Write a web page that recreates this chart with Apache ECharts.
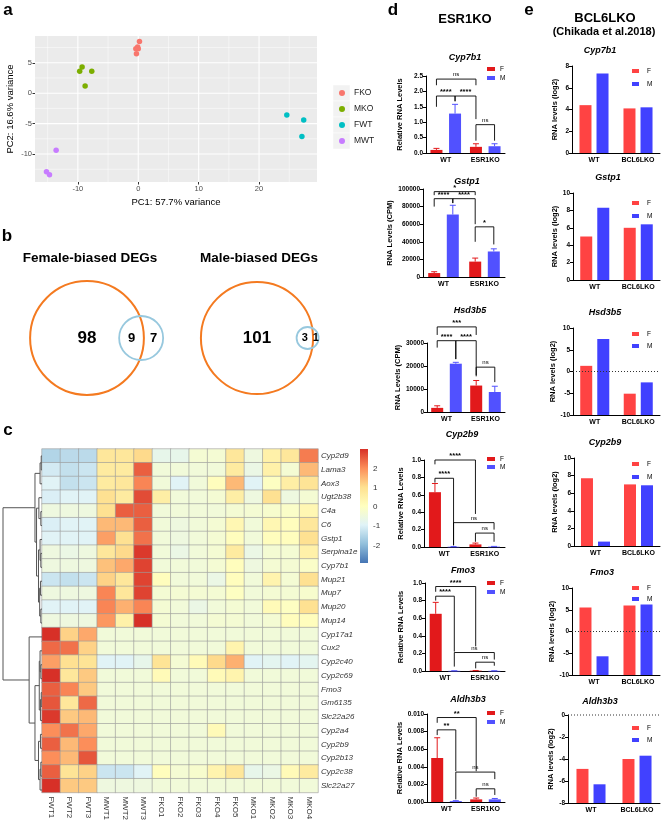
<!DOCTYPE html>
<html>
<head>
<meta charset="utf-8">
<title>ESR1KO / BCL6LKO</title>
<script src="https://cdn.jsdelivr.net/npm/echarts@6.0.0/dist/echarts.min.js"></script>
<style>
  html, body { margin: 0; padding: 0; background: #fff; }
  #chart { width: 667px; height: 823px; }
</style>
</head>
<body>
<div id="chart"></div>
<script>
// ---------- a: PCA ----------
const pcaGroups = ['FKO', 'MKO', 'FWT', 'MWT']
const pcaColors = ['#F8766D', '#7CAE00', '#00BFC4', '#C77CFF']
const pcaFKO = [[0.2, 8.5], [-0.1, 7.6], [-0.4, 7.3], [0.0, 7.3], [-0.3, 6.5]]
const pcaMKO = [[-9.3, 4.3], [-9.7, 3.6], [-7.7, 3.6], [-8.8, 1.2]]
const pcaFWT = [[24.6, -3.6], [27.4, -4.4], [27.1, -7.1]]
const pcaMWT = [[-13.6, -9.4], [-15.2, -12.9], [-14.7, -13.4]]
const pcaXTicks = [-10, 0, 10, 20]
const pcaYTicks = [-10, -5, 0, 5]
const pcaXMinor = [-15, -5, 5, 15, 25]
const pcaYMinor = [-12.5, -7.5, -2.5, 2.5, 7.5]

// ---------- b: Venn ----------
const vennTitles = ['Female-biased DEGs', 'Male-biased DEGs']
const vennOnlyA = [98, 101]
const vennBoth = [9, 3]
const vennOnlyB = [7, 1]

// ---------- c: heatmap ----------
const hmSamples = ['FWT1', 'FWT2', 'FWT3', 'MWT1', 'MWT2', 'MWT3', 'FKO1', 'FKO2', 'FKO3', 'FKO4', 'FKO5', 'MKO1', 'MKO2', 'MKO3', 'MKO4']
const hmGenes = ['Cyp2d9', 'Lama3', 'Aox3', 'Ugt2b38', 'C4a', 'C6', 'Gstp1', 'Serpina1e', 'Cyp7b1', 'Mup21', 'Mup7', 'Mup20', 'Mup14',
  'Cyp17a1', 'Cux2', 'Cyp2c40', 'Cyp2c69', 'Fmo3', 'Gm6135', 'Slc22a26', 'Cyp2a4', 'Cyp2b9', 'Cyp2b13', 'Cyp2c38', 'Slc22a27']
const hmValues = [
  [-1.5, -1.4, -1.4, 0.8, 0.8, 1.1, -0.7, -0.7, -0.3, -0.3, 0.8, -0.5, 0.5, 0.8, 2.2],
  [-1.1, -1.3, -1.2, 0.7, 0.7, 2.5, -0.4, -0.4, -0.4, -0.4, 0.7, -0.6, 0.5, -0.3, 1.5],
  [-0.9, -1.3, -1.2, 0.7, 0.8, 2.1, -0.4, -0.9, -0.4, 0.1, 1.5, -0.9, 0.0, 0.6, 0.9],
  [-1.0, -0.9, -0.9, 1.0, 0.7, 2.7, 0.6, -0.4, -0.4, -0.3, 0.6, -0.5, 1.0, -0.5, -0.3],
  [-0.5, -0.5, -0.5, 1.0, 2.5, 2.5, -0.4, -0.4, -0.4, -0.4, -0.3, -0.3, -0.2, -0.1, 0.3],
  [-1.0, -0.9, -0.9, 1.5, 1.5, 2.5, -0.4, -0.5, -0.4, -0.3, 0.3, -0.4, 0.3, 0.1, 0.8],
  [-0.9, -0.9, -0.9, 1.8, 1.0, 2.3, -0.4, -0.5, -0.4, -0.3, 0.1, -0.4, 0.1, 0.1, 1.0],
  [-0.5, -0.6, -0.5, 0.8, 1.1, 2.9, -0.4, -0.6, -0.4, -0.3, 0.7, -0.6, -0.3, -0.3, 0.5],
  [-0.5, -0.5, -0.5, 1.4, 1.7, 2.8, -0.4, -0.4, -0.4, -0.3, 0.1, -0.5, -0.3, -0.3, -0.1],
  [-1.2, -1.3, -1.2, 1.2, 0.8, 2.8, 0.1, -0.4, -0.4, -0.6, 0.1, -0.4, 0.4, -0.3, 1.0],
  [-0.5, -0.5, -0.5, 2.1, 0.8, 2.8, -0.3, -0.3, -0.3, -0.3, 0.0, -0.4, -0.3, -0.3, -0.2],
  [-0.9, -0.9, -0.9, 2.1, 1.6, 2.1, -0.3, -0.4, -0.6, -0.4, -0.3, -0.4, 0.2, 0.0, 1.0],
  [-0.5, -0.5, -0.5, 1.9, 0.5, 3.0, -0.3, -0.4, -0.4, -0.3, -0.3, -0.4, -0.3, 0.1, 0.1],
  [3.0, 1.2, 1.7, -0.4, -0.4, -0.4, -0.4, -0.4, -0.4, -0.4, -0.4, -0.4, -0.4, -0.4, -0.4],
  [2.4, 2.3, 1.2, -0.4, -0.4, -0.4, -0.4, -0.4, -0.4, -0.4, 0.4, -0.4, -0.4, -0.4, -0.4],
  [1.8, 1.0, 0.9, -0.9, -0.9, -0.7, 0.9, -0.3, 0.2, 1.1, 1.6, -0.9, -0.8, -0.9, -0.8],
  [3.0, 0.8, 1.3, -0.4, -0.4, -0.4, 0.2, -0.4, -0.4, 0.2, 0.4, -0.4, -0.4, -0.4, -0.4],
  [2.5, 2.1, 1.3, -0.4, -0.4, -0.4, -0.4, -0.4, -0.4, -0.4, -0.4, -0.4, -0.4, -0.4, -0.4],
  [2.6, 0.8, 2.4, -0.4, -0.4, -0.4, -0.4, -0.4, -0.4, -0.4, -0.4, -0.4, -0.4, -0.4, -0.4],
  [2.9, 1.3, 1.5, -0.4, -0.4, -0.4, -0.4, -0.4, -0.4, -0.4, -0.4, -0.4, -0.4, -0.4, -0.4],
  [2.0, 2.3, 1.7, -0.4, -0.4, -0.4, -0.4, -0.4, -0.4, 0.2, -0.4, -0.4, -0.4, -0.4, -0.4],
  [2.5, 1.5, 2.0, -0.4, -0.4, -0.4, -0.4, -0.4, -0.4, -0.4, -0.4, -0.4, -0.4, -0.4, -0.4],
  [2.0, 1.5, 2.6, -0.4, -0.4, -0.4, -0.4, -0.4, -0.4, -0.4, -0.4, -0.4, -0.4, -0.4, -0.4],
  [2.5, 0.9, 1.2, -1.2, -1.2, -0.9, 0.1, -0.3, -0.2, 0.4, 0.8, -0.7, -0.6, 0.2, 0.7],
  [3.0, 1.3, 1.3, -0.5, -0.5, -0.5, -0.4, -0.4, -0.4, -0.4, -0.4, -0.4, -0.4, -0.4, -0.4]
]
const hmMin = -2.9
const hmMax = 3
const hmTicks = [-2, -1, 0, 1, 2]
// row dendrogram: [left, right, height], leaves are row indexes
const dendroTree = [
  [[[0, 1, 0.02], 2, 0.05],
    [[3, [4, 5, 0.03], 0.08], [[6, [7, 8, 0.03], 0.05], [[9, 10, 0.04], [11, 12, 0.03], 0.06], 0.09], 0.14], 0.18],
  [13, [[[14, [15, 16, 0.03], 0.05], [[17, 18, 0.02], 19, 0.04], 0.07],
    [[20, 21, 0.04], [[22, 23, 0.03], 24, 0.05], 0.09], 0.18], 0.33],
  1.0]

// ---------- d: ESR1KO ----------
const esrGroups = ['WT', 'ESR1KO']
const esrGenes = ['Cyp7b1', 'Gstp1', 'Hsd3b5', 'Cyp2b9', 'Fmo3', 'Aldh3b3']
const esrYNames = ['Relative RNA Levels', 'RNA Levels (CPM)', 'RNA Levels (CPM)', 'Relative RNA Levels', 'Relative RNA Levels', 'Relative RNA Levels']
const esrMax = [2.5, 100000, 30000, 1.0, 1.0, 0.010]
const esrStep = [0.5, 20000, 10000, 0.2, 0.2, 0.002]
const esrDecimals = [1, 0, 0, 1, 1, 3]
const esrF = [[0.10, 0.20], [4500, 17500], [1800, 11500], [0.63, 0.03], [0.65, 0.004], [0.0050, 0.0003]]
const esrFErr = [[0.05, 0.10], [1500, 4000], [900, 2200], [0.10, 0.015], [0.13, 0.002], [0.0023, 0.00015]]
const esrM = [[1.28, 0.22], [71000, 29000], [21000, 8700], [0.003, 0.004], [0.002, 0.002], [0.0001, 0.0003]]
const esrMErr = [[0.30, 0.08], [10500, 3000], [600, 2500], [0.002, 0.003], [0.001, 0.001], [0.00005, 0.0001]]
// [group1, sex1, group2, sex2, level, left leg end, right leg end]  (sex 0 = F, 1 = M)
const esrBrackets = [
  [[0, 0, 1, 0, 2.40, 2.20, 2.20], [0, 0, 0, 1, 1.85, 1.50, 1.68], [0, 1, 1, 0, 1.85, 1.68, 1.10], [1, 0, 1, 1, 0.92, 0.40, 0.40]],
  [[0, 0, 1, 0, 97000, 93000, 93000], [0, 0, 0, 1, 89000, 80000, 84000], [0, 1, 1, 0, 89000, 84000, 60000], [1, 0, 1, 1, 57000, 40000, 37000]],
  [[0, 0, 1, 0, 37000, 33500, 33500], [0, 0, 0, 1, 31000, 28000, 23000], [0, 1, 1, 0, 31000, 23000, 16000], [1, 0, 1, 1, 19500, 15500, 13000]],
  [[0, 0, 1, 0, 1.0, 0.95, 0.38], [0, 0, 0, 1, 0.79, 0.74, 0.02], [0, 1, 1, 1, 0.28, 0.02, 0.20], [1, 0, 1, 1, 0.16, 0.06, 0.06]],
  [[0, 0, 1, 0, 0.96, 0.90, 0.28], [0, 0, 0, 1, 0.85, 0.80, 0.22], [0, 1, 1, 1, 0.21, 0.05, 0.13], [1, 0, 1, 1, 0.10, 0.03, 0.06]],
  [[0, 0, 1, 0, 0.0096, 0.0090, 0.0035], [0, 0, 0, 1, 0.0082, 0.0076, 0.0035], [0, 1, 1, 1, 0.0034, 0.0003, 0.0026], [1, 0, 1, 1, 0.0015, 0.0006, 0.0008]]
]
const esrBracketText = [
  ['ns', '****', '****', 'ns'],
  ['*', '****', '****', '*'],
  ['***', '****', '****', 'ns'],
  ['****', '****', 'ns', 'ns'],
  ['****', '****', 'ns', 'ns'],
  ['**', '**', 'ns', 'ns']
]

// ---------- e: BCL6LKO ----------
const bclGroups = ['WT', 'BCL6LKO']
const bclGenes = ['Cyp7b1', 'Gstp1', 'Hsd3b5', 'Cyp2b9', 'Fmo3', 'Aldh3b3']
const bclF = [[4.4, 4.1], [5.0, 6.0], [1.3, -5.1], [7.7, 7.0], [5.5, 6.0], [-4.9, -4.0]]
const bclM = [[7.3, 4.2], [8.3, 6.4], [7.5, -2.5], [0.5, 6.9], [-5.7, 6.2], [-6.3, -3.7]]
const bclMin = [0, 0, -10, 0, -10, -8]
const bclMax = [8, 10, 10, 10, 10, 0]
const bclStep = [2, 2, 5, 2, 5, 2]

// ---------- build ----------
const FONT = '"Liberation Sans", Arial, sans-serif'
const grids = []
const xAxes = []
const yAxes = []
const series = []
const legends = []
const texts = []

function addGrid (grid, xAxis, yAxis) {
  const i = grids.length
  grids.push(grid)
  xAxes.push(Object.assign({ gridIndex: i }, xAxis))
  yAxes.push(Object.assign({ gridIndex: i }, yAxis))
  return i
}

function textStyle (text, font, vAlign) {
  const v = vAlign || 'middle'
  return { text: text, font: font, fill: '#000', align: 'center', verticalAlign: v, textAlign: 'center', textVerticalAlign: v }
}

function label (x, y, text, font) {
  texts.push({ type: 'text', x: x, y: y, silent: true, style: textStyle(text, font) })
}

// panel letters and headers
label(8, 10, 'a', 'bold 17px ' + FONT)
label(7, 236, 'b', 'bold 17px ' + FONT)
label(8, 430, 'c', 'bold 17px ' + FONT)
label(393, 10, 'd', 'bold 17px ' + FONT)
label(529, 10, 'e', 'bold 17px ' + FONT)
label(465, 19, 'ESR1KO', 'bold 13px ' + FONT)
label(605, 18, 'BCL6LKO', 'bold 13px ' + FONT)
label(604, 32, '(Chikada et al.2018)', 'bold 11px ' + FONT)

// ----- a -----
const gA = addGrid(
  { left: 35, top: 36, width: 282, height: 146, show: true, backgroundColor: '#EBEBEB', borderWidth: 0 },
  {
    type: 'value', min: -17.1, max: 29.6, splitNumber: 5,
    axisLine: { show: false, onZero: false }, splitLine: { show: false },
    axisTick: { customValues: pcaXTicks, length: 2.5, lineStyle: { color: '#333' } },
    axisLabel: { customValues: pcaXTicks, fontSize: 7.5, color: '#4D4D4D', margin: 3, fontFamily: FONT },
    name: 'PC1: 57.7% variance', nameLocation: 'middle', nameGap: 15,
    nameTextStyle: { fontSize: 9.5, color: '#000', fontFamily: FONT }
  },
  {
    type: 'value', min: -14.6, max: 9.4, splitNumber: 5,
    axisLine: { show: false, onZero: false }, splitLine: { show: false },
    axisTick: { customValues: pcaYTicks, length: 2.5, lineStyle: { color: '#333' } },
    axisLabel: { customValues: pcaYTicks, fontSize: 7.5, color: '#4D4D4D', margin: 3, fontFamily: FONT },
    name: 'PC2: 16.6% variance', nameLocation: 'middle', nameGap: 20,
    nameTextStyle: { fontSize: 9.5, color: '#000', fontFamily: FONT }
  })

// ggplot-style gridlines (major + minor) drawn through the axes
const pcaGridLines = []
pcaXTicks.forEach(v => pcaGridLines.push([v, 0, 1]))
pcaXMinor.forEach(v => pcaGridLines.push([v, 0, 0]))
pcaYTicks.forEach(v => pcaGridLines.push([v, 1, 1]))
pcaYMinor.forEach(v => pcaGridLines.push([v, 1, 0]))
series.push({
  type: 'custom', xAxisIndex: gA, yAxisIndex: gA, silent: true, z: 1,
  data: pcaGridLines,
  encode: { x: 0 },
  renderItem: (params, api) => {
    const v = api.value(0)
    const vertical = api.value(1) === 0
    const a = vertical ? api.coord([v, -14.6]) : api.coord([-17.1, v])
    const b = vertical ? api.coord([v, 9.4]) : api.coord([29.6, v])
    return {
      type: 'line', shape: { x1: a[0], y1: a[1], x2: b[0], y2: b[1] },
      style: { stroke: '#fff', lineWidth: api.value(2) ? 1.1 : 0.5 }
    }
  }
})
const pcaPoints = [pcaFKO, pcaMKO, pcaFWT, pcaMWT]
pcaGroups.forEach((g, i) => {
  series.push({
    type: 'scatter', name: g, xAxisIndex: gA, yAxisIndex: gA, z: 3,
    data: pcaPoints[i], symbolSize: 5.5, itemStyle: { color: pcaColors[i], opacity: 1 }
  })
})
// ggplot legend key backgrounds
pcaGroups.forEach((g, i) => {
  texts.push({ type: 'rect', silent: true, z: -1, shape: { x: 333, y: 85 + i * 16, width: 17, height: 16 }, style: { fill: '#F2F2F2', stroke: '#fff', lineWidth: 0.5 } })
})
legends.push({
  orient: 'vertical', left: 339, top: 88, padding: 0, itemWidth: 6, itemHeight: 6, itemGap: 6,
  icon: 'circle', selectedMode: false, data: pcaGroups,
  textStyle: { fontSize: 8.5, color: '#222', fontFamily: FONT, lineHeight: 10, padding: [0, 0, 0, 4] }
})

// ----- b -----
const VENN_K = 5.5
const vennCx = [87, 257]
const vennCy = 76
const gB = addGrid({ left: 0, top: 262, width: 340, height: 150 },
  { type: 'value', min: 0, max: 340, show: false },
  { type: 'value', min: 0, max: 150, inverse: true, show: false })
label(90, 258, vennTitles[0], 'bold 13.5px ' + FONT)
label(259, 258, vennTitles[1], 'bold 13.5px ' + FONT)
series.push({
  type: 'custom', xAxisIndex: gB, yAxisIndex: gB, silent: true,
  data: vennTitles.map((t, i) => [i]),
  renderItem: (params, api) => {
    const i = params.dataIndex
    const nA = vennOnlyA[i] + vennBoth[i]
    const nB = vennBoth[i] + vennOnlyB[i]
    const rA = VENN_K * Math.sqrt(nA)
    const rB = VENN_K * Math.sqrt(nB)
    const cxA = vennCx[i]
    const cxB = cxA + rA + rB - 2 * rB * vennBoth[i] / nB
    const pA = api.coord([cxA, vennCy])
    const pB = api.coord([cxB, vennCy])
    const unit = api.size([1, 1])[0]
    const lensMid = api.coord([((cxB - rB) + (cxA + rA)) / 2, vennCy])
    const bMid = api.coord([((cxA + rA) + (cxB + rB)) / 2, vennCy])
    const num = (p, t, size) => ({ type: 'text', x: p[0], y: p[1], style: textStyle(String(t), 'bold ' + size + 'px ' + FONT) })
    return {
      type: 'group',
      children: [
        { type: 'circle', shape: { cx: pA[0], cy: pA[1], r: rA * unit }, style: { fill: 'none', stroke: '#F47A20', lineWidth: 2 } },
        { type: 'circle', shape: { cx: pB[0], cy: pB[1], r: rB * unit }, style: { fill: 'none', stroke: '#97C8DE', lineWidth: 1.8 } },
        num(pA, vennOnlyA[i], 17),
        num(lensMid, vennBoth[i], i === 0 ? 13 : 11),
        num(bMid, vennOnlyB[i], i === 0 ? 13 : 11)
      ]
    }
  }
})

// ----- c -----
const hmPalette = ['#4575B4', '#91BFDB', '#E0F3F8', '#FFFFBF', '#FEE090', '#FC8D59', '#D73027']
const gC = addGrid({ left: 42, top: 449, width: 276, height: 348 },
  {
    type: 'category', data: hmSamples, position: 'bottom',
    axisLine: { show: false }, axisTick: { show: false }, splitLine: { show: false },
    axisLabel: { rotate: -90, interval: 0, fontSize: 8, color: '#333', margin: 4, fontFamily: FONT }
  },
  {
    type: 'category', data: hmGenes, inverse: true, position: 'right',
    axisLine: { show: false }, axisTick: { show: false }, splitLine: { show: false },
    axisLabel: { interval: 0, fontSize: 8, fontStyle: 'italic', color: '#333', margin: 3, fontFamily: FONT }
  })
const hmData = []
hmValues.forEach((row, r) => row.forEach((v, c) => hmData.push([c, r, v])))
const hmSeriesIndex = series.length
series.push({
  type: 'heatmap', xAxisIndex: gC, yAxisIndex: gC, data: hmData,
  itemStyle: { borderColor: '#9a9a9a', borderWidth: 0.6 },
  emphasis: { disabled: true }
})

// dendrogram
const gDen = addGrid({ left: 3, top: 449, width: 39, height: 348 },
  { type: 'value', min: 0, max: 1, inverse: true, show: false },
  { type: 'value', min: 0, max: hmGenes.length, inverse: true, show: false })
const dendroSegs = []
function walk (node) {
  if (typeof node === 'number') return { y: node + 0.5, h: 0 }
  const a = walk(node[0])
  const b = walk(node[1])
  dendroSegs.push({ coords: [[a.h, a.y], [node[2], a.y], [node[2], b.y], [b.h, b.y]] })
  return { y: (a.y + b.y) / 2, h: node[2] }
}
walk(dendroTree)
series.push({
  type: 'lines', coordinateSystem: 'cartesian2d', xAxisIndex: gDen, yAxisIndex: gDen,
  polyline: true, silent: true, data: dendroSegs,
  lineStyle: { color: '#555', width: 1, opacity: 1 }
})

// colour bar
const gBar = addGrid({ left: 360, top: 449, width: 8, height: 114 },
  { type: 'value', min: 0, max: 1, show: false },
  {
    type: 'value', min: hmMin, max: hmMax, position: 'right',
    axisLine: { show: false }, axisTick: { show: false }, splitLine: { show: false },
    axisLabel: { customValues: hmTicks, fontSize: 8, color: '#333', margin: 5, fontFamily: FONT }
  })
series.push({
  type: 'custom', xAxisIndex: gBar, yAxisIndex: gBar, silent: true,
  data: [[0, hmMin, hmMax]],
  encode: { x: 0, y: 1 },
  renderItem: (params, api) => {
    const p0 = api.coord([0, api.value(2)])
    const p1 = api.coord([1, api.value(1)])
    return {
      type: 'rect', shape: { x: p0[0], y: p0[1], width: p1[0] - p0[0], height: p1[1] - p0[1] },
      style: {
        fill: new echarts.graphic.LinearGradient(0, 1, 0, 0,
          hmPalette.map((c, i) => ({ offset: i / (hmPalette.length - 1), color: c })))
      }
    }
  }
})

// ----- d / e bar panels (Prism style: bars rise from the bottom of the axis) -----
function barPanel (o) {
  const g = addGrid({ left: o.left, top: o.top, width: o.width, height: o.height },
    {
      type: 'category', data: o.groups,
      axisLine: { onZero: false, lineStyle: { color: '#000', width: 1 } },
      axisTick: { alignWithLabel: true, length: 3, lineStyle: { color: '#000' } },
      axisLabel: { fontSize: 7, fontWeight: 'bold', color: '#000', margin: 4, fontFamily: FONT }
    },
    {
      type: 'value', min: o.min, max: o.max, interval: o.step,
      axisLine: { show: true, onZero: false, lineStyle: { color: '#000', width: 1 } },
      axisTick: { show: true, length: 3, lineStyle: { color: '#000' } },
      splitLine: { show: false },
      axisLabel: { fontSize: 6.5, fontWeight: 'bold', color: '#000', margin: 3, fontFamily: FONT, formatter: v => v.toFixed(o.dec) },
      name: o.yName, nameLocation: 'middle', nameGap: o.nameGap,
      nameTextStyle: { fontSize: 7.5, fontWeight: 'bold', color: '#000', fontFamily: FONT }
    })
  const off = o.barW * (1 + o.gap) / 2
  const sexValues = [o.f, o.m]
  sexValues.forEach((vals, sex) => {
    series.push({
      type: 'custom', name: o.names[sex], xAxisIndex: g, yAxisIndex: g, silent: true, z: 2,
      itemStyle: { color: o.colors[sex] },
      data: vals.map((v, c) => [c, v]),
      encode: { x: 0, y: 1 },
      renderItem: (params, api) => {
        const base = api.coord([api.value(0), o.min])
        const top = api.coord([api.value(0), api.value(1)])
        const x = base[0] + (sex ? off : -off) - o.barW / 2
        return {
          type: 'rect',
          shape: { x: x, y: Math.min(base[1], top[1]), width: o.barW, height: Math.max(Math.abs(base[1] - top[1]), 0.6) },
          style: { fill: o.colors[sex] }
        }
      }
    })
  })
  if (o.zeroLine) {
    series.push({
      type: 'custom', xAxisIndex: g, yAxisIndex: g, silent: true, z: 3,
      data: [[0, 0]], encode: { x: 0, y: 1 },
      renderItem: (params, api) => {
        const band = api.size([1, 0])[0]
        const a = api.coord([0, 0])
        const b = api.coord([o.groups.length - 1, 0])
        return {
          type: 'line', shape: { x1: a[0] - band / 2, y1: a[1], x2: b[0] + band / 2, y2: a[1] },
          style: { stroke: '#333', lineWidth: 1, lineDash: [1, 2] }
        }
      }
    })
  }
  if (o.fErr) {
    const errData = []
    o.f.forEach((v, c) => errData.push([c, 0, v, o.fErr[c]]))
    o.m.forEach((v, c) => errData.push([c, 1, v, o.mErr[c]]))
    series.push({
      type: 'custom', xAxisIndex: g, yAxisIndex: g, silent: true, z: 3,
      data: errData, encode: { x: 0, y: 2 },
      renderItem: (params, api) => {
        const sex = api.value(1)
        const mean = api.value(2)
        const p0 = api.coord([api.value(0), mean])
        const p1 = api.coord([api.value(0), mean + api.value(3)])
        const x = p0[0] + (sex ? off : -off)
        const st = { stroke: o.colors[sex], lineWidth: 1 }
        return {
          type: 'group',
          children: [
            { type: 'line', shape: { x1: x, y1: p0[1], x2: x, y2: p1[1] }, style: st },
            { type: 'line', shape: { x1: x - 3, y1: p1[1], x2: x + 3, y2: p1[1] }, style: st }
          ]
        }
      }
    })
  }
  if (o.brackets) {
    series.push({
      type: 'custom', xAxisIndex: g, yAxisIndex: g, silent: true, z: 4,
      data: o.brackets, encode: { x: 0, y: 4 },
      renderItem: (params, api) => {
        const lv = api.value(4)
        const a = api.coord([api.value(0), lv])
        const b = api.coord([api.value(2), lv])
        const xL = a[0] + (api.value(1) ? off : -off)
        const xR = b[0] + (api.value(3) ? off : -off)
        const yL = api.coord([0, api.value(5)])[1]
        const yR = api.coord([0, api.value(6)])[1]
        const t = o.bracketText[params.dataIndex]
        const isNs = t === 'ns'
        return {
          type: 'group',
          children: [
            { type: 'polyline', shape: { points: [[xL, yL], [xL, a[1]], [xR, a[1]], [xR, yR]] }, style: { stroke: '#000', lineWidth: 0.9, fill: 'none' } },
            {
              type: 'text', x: (xL + xR) / 2, y: a[1] - (isNs ? 1.5 : 0),
              style: textStyle(t, (isNs ? '' : 'bold ') + (isNs ? 6 : 7.5) + 'px ' + FONT, 'bottom')
            }
          ]
        }
      }
    })
  }
  if (o.legendTop != null) {
    legends.push({
      orient: 'vertical', left: o.legendLeft, top: o.legendTop, padding: 0,
      itemWidth: o.legendW, itemHeight: 4, itemGap: o.legendGap, icon: 'rect', selectedMode: false,
      data: o.names, formatter: n => n.charAt(0),
      textStyle: { fontSize: 6.5, color: '#000', fontFamily: FONT, lineHeight: 8, padding: [0, 0, 0, o.legendPad] }
    })
  }
  label(o.titleX, o.titleY, o.title, 'italic bold 9px ' + FONT)
}

const esrLayout = [
  { left: 426, top: 76, width: 79, height: 77, titleX: 465, titleY: 58, nameGap: 22, legendTop: 65, legendGap: 1 },
  { left: 423, top: 189, width: 82, height: 88, titleX: 467, titleY: 182, nameGap: 18 },
  { left: 427, top: 343, width: 78, height: 69, titleX: 470, titleY: 311, nameGap: 21 },
  { left: 424, top: 460, width: 81, height: 87, titleX: 462, titleY: 435, nameGap: 19, legendTop: 455, legendGap: 0 },
  { left: 425, top: 583, width: 80, height: 88, titleX: 463, titleY: 571, nameGap: 20, legendTop: 579, legendGap: 1 },
  { left: 427, top: 714, width: 78, height: 88, titleX: 468, titleY: 700, nameGap: 22, legendTop: 709, legendGap: 1 }
]
esrGenes.forEach((gene, i) => {
  barPanel(Object.assign({
    groups: esrGroups, title: gene, yName: esrYNames[i],
    min: 0, max: esrMax[i], step: esrStep[i], dec: esrDecimals[i],
    f: esrF[i], m: esrM[i], fErr: esrFErr[i], mErr: esrMErr[i],
    brackets: esrBrackets[i], bracketText: esrBracketText[i],
    names: ['F', 'M'], colors: ['#E2191B', '#5151FF'], barW: 12, gap: 0.55,
    legendLeft: 487, legendW: 8, legendPad: 0
  }, esrLayout[i]))
})

const bclLayout = [
  { left: 572, top: 66, width: 88, height: 87, titleX: 600, titleY: 51, nameGap: 13, legendTop: 67, legendGap: 5 },
  { left: 573, top: 193, width: 87, height: 87, titleX: 608, titleY: 178, nameGap: 14, legendTop: 199, legendGap: 5 },
  { left: 573, top: 328, width: 87, height: 87, titleX: 605, titleY: 313, nameGap: 16, legendTop: 330, legendGap: 4 },
  { left: 574, top: 458, width: 86, height: 88, titleX: 605, titleY: 443, nameGap: 15, legendTop: 460, legendGap: 5 },
  { left: 572, top: 588, width: 88, height: 87, titleX: 602, titleY: 573, nameGap: 16, legendTop: 584, legendGap: 3 },
  { left: 568, top: 715, width: 92, height: 88, titleX: 600, titleY: 702, nameGap: 12, legendTop: 724, legendGap: 4 }
]
bclGenes.forEach((gene, i) => {
  barPanel(Object.assign({
    groups: bclGroups, title: gene, yName: 'RNA levels (log2)',
    min: bclMin[i], max: bclMax[i], step: bclStep[i], dec: 0,
    f: bclF[i], m: bclM[i], zeroLine: bclMin[i] < 0,
    names: ['Fe', 'Me'], colors: ['#FF4343', '#4141FF'], barW: 12, gap: 0.42,
    legendLeft: 632, legendW: 7, legendPad: 3
  }, bclLayout[i]))
})

const chart = echarts.init(document.getElementById('chart'), null, { renderer: 'canvas' })
chart.setOption({
  animation: false,
  backgroundColor: '#fff',
  textStyle: { fontFamily: FONT },
  grid: grids,
  xAxis: xAxes,
  yAxis: yAxes,
  legend: legends,
  visualMap: [{
    show: false, type: 'continuous', seriesIndex: hmSeriesIndex, dimension: 2,
    min: hmMin, max: hmMax, inRange: { color: hmPalette }
  }],
  graphic: texts,
  series: series
})
</script>
</body>
</html>
